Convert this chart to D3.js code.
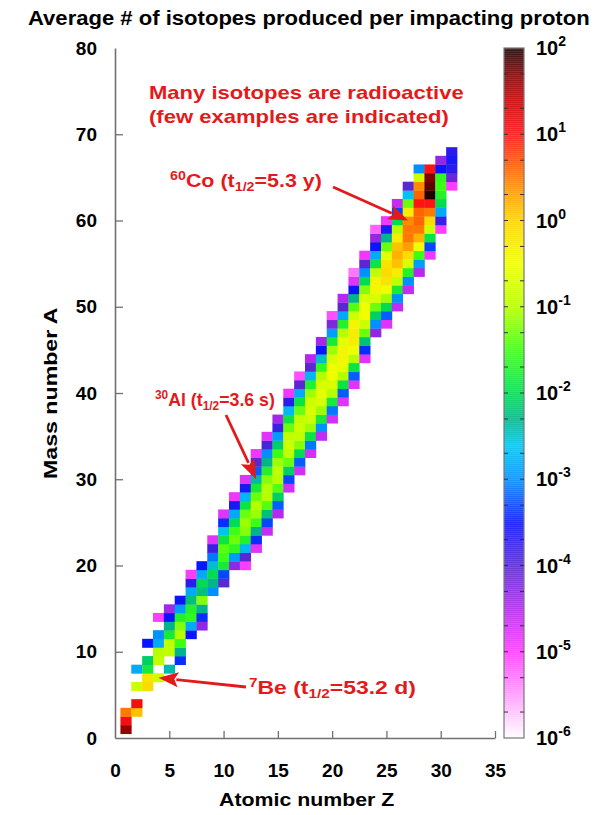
<!DOCTYPE html>
<html><head><meta charset="utf-8">
<script src="https://cdn.jsdelivr.net/npm/d3@7"></script>
<style>
body{margin:0;background:#fff}
svg{display:block}
text{font-family:"Liberation Sans",Arial,Helvetica,sans-serif;font-weight:bold}
</style>
</head><body>
<svg id="c" width="597" height="815"></svg>
<script>
// ---------------- data ----------------
const zValues = [1,2,3,4,5,6,7,8,9,10,11,12,13,14,15,16,17,18,19,20,21,22,23,24,25,26,27,28,29,30,31];
// first mass number A of each Z column
const aStart  = [1,3,6,7,8,9,12,13,17,18,20,20,22,24,26,29,31,33,35,37,39,41,44,47,48,50,52,54,56,59,64];
// log10(average number produced per proton), one entry per A from aStart upward; null = none
const logYield = [
  [1.6,1.1,0.5],
  [0.1,1.1,null,-0.8,null,-2.8],
  [-0.1,-0.2,-1.8,-2.1,null,-3.5],
  [-0.8,null,-0.9,-1.0,-2.8,-3.0,null,-5.0],
  [-2.4,null,-0.9,-0.9,-1.8,-2.3,-3.5,-4.4],
  [-3.4,-2.3,-1.5,-1.0,-1.2,-1.7,-2.9,-3.5],
  [-3.5,-2.8,-1.6,-1.7,-2.2,-2.8,-3.7,-5.0],
  [-4.3,-3.4,-2.3,-1.2,-2.2,-2.0,-2.8,-3.5],
  [-3.0,-2.3,-2.0,-2.5,-3.1,-3.8,-4.8],
  [-4.0,-3.3,-1.8,-1.5,-1.4,-1.9,-2.6,-3.4,-4.8],
  [-4.3,-2.9,-1.6,-1.3,-1.5,-2.0,-2.8,-3.6,-4.9],
  [-5.0,-4.0,-2.7,-1.7,-1.2,-1.1,-1.3,-1.9,-2.7,-3.6,-4.8],
  [-4.8,-3.4,-2.3,-1.5,-1.1,-1.0,-1.3,-1.8,-2.4,-3.2,-4.0,-4.9],
  [-4.6,-3.3,-2.2,-1.4,-1.0,-1.0,-1.2,-1.7,-2.3,-3.0,-3.9,-4.8],
  [-4.5,-3.2,-2.1,-1.4,-1.0,-0.9,-1.1,-1.5,-2.1,-2.9,-3.8,-4.4],
  [-4.7,-3.3,-2.1,-1.3,-0.9,-0.8,-0.9,-1.3,-1.9,-2.7,-3.7,-4.9],
  [-4.7,-3.2,-2.0,-1.2,-0.9,-0.8,-0.9,-1.3,-1.9,-2.8,-4.0,-5.1],
  [-4.7,-3.1,-1.9,-1.1,-0.8,-0.7,-0.8,-1.1,-1.7,-2.7,-4.0,-4.5],
  [-4.6,-3.0,-1.8,-1.1,-0.7,-0.6,-0.7,-1.0,-1.6,-2.5,-3.5,-4.4],
  [-4.7,-3.1,-1.8,-1.0,-0.7,-0.5,-0.5,-0.7,-1.1,-1.8,-2.9,-4.2,-5.1],
  [-4.8,-3.2,-1.9,-1.0,-0.6,-0.4,-0.4,-0.6,-1.0,-1.7,-2.8,-4.0,-4.5],
  [-4.8,-3.2,-1.9,-1.0,-0.5,-0.3,-0.3,-0.4,-0.8,-1.4,-2.3,-3.5,-4.8,-5.3],
  [-4.8,-3.4,-2.2,-1.3,-0.8,-0.5,-0.5,-0.7,-1.2,-2.0,-3.0,-4.0,-4.9],
  [-4.3,-3.0,-2.1,-1.3,-0.7,-0.4,-0.4,-0.9,-1.9,-2.8,-3.5,-4.3,-5.2],
  [-4.8,-3.2,-2.0,-1.1,-0.5,-0.2,-0.1,-0.2,-0.6,-1.3,-2.3,-3.6,-4.9],
  [-4.6,-3.0,-1.8,-0.9,-0.3,0.1,0.2,0.1,-0.3,-1.0,-2.0,-3.3,-4.6],
  [-4.6,-3.0,-1.7,-0.7,-0.1,0.3,0.5,0.5,0.4,-0.3,-1.3,-2.6,-4.0],
  [-4.5,-2.9,-1.5,-0.5,0.2,0.5,0.6,0.6,1.0,0.6,0.4,-0.8,-3.0],
  [-4.9,-3.3,-1.9,-0.8,-0.1,0.5,1.0,2.0,1.8,1.7,1.0],
  [-5.0,-3.8,-2.8,-2.0,-1.7,-1.5,-1.6,-3.5,-4.3],
  [-5.0,-4.1,-3.7,-3.6,-3.7]
];
const xTicks = [0,5,10,15,20,25,30,35];
const yTicks = [0,10,20,30,40,50,60,70,80];
const cbExponents = [-6,-5,-4,-3,-2,-1,0,1,2];
// colour map: log10 value -> colour
const stopLogs   = [-6,-5.5,-5,-4.5,-4,-3.5,-3,-2.6,-2.3,-2,-1.5,-1,-0.5,0,0.3,0.6,1,1.4,1.7,2];
const stopColors = ["#ffffff","#ff9cff","#ff3cff","#b428f0","#5a28d2","#0a14ff","#0090ff","#00c4ee","#00b48c","#00dc50","#3cff14","#b4ff00","#f0ff00","#ffd200","#ffa000","#ff6400","#ff1414","#c80000","#820000","#1e0000"];

// ---------------- scales ----------------
const svg = d3.select("#c");
const X = d3.scaleLinear().domain([0,35]).range([115,495]);
const Y = d3.scaleLinear().domain([0,80]).range([738,48]);
const CB = d3.scaleLinear().domain([-6,2]).range([738,48]);
const color = d3.scaleLinear().domain(stopLogs).range(stopColors).interpolate(d3.interpolateRgb).clamp(true);
const RED = "#e41a1a";

// stretch a text horizontally so that it spans targetWidth, anchored at its start
function fitWidth(t, x, y, targetWidth){
  t.attr("x",0).attr("y",0);
  const w = t.node().getBBox().width;
  t.attr("transform",`translate(${x},${y}) scale(${targetWidth/w},1)`);
  return t;
}

// ---------------- cells ----------------
const cells = [];
zValues.forEach((z,i)=>logYield[i].forEach((v,j)=>{ if(v!==null) cells.push({z:z,a:aStart[i]+j,v:v}); }));
const cw = X(1)-X(0), ch = Y(0)-Y(1);
svg.append("g").selectAll("rect").data(cells).join("rect")
  .attr("x",d=>X(d.z-0.5)).attr("y",d=>Y(d.a+0.5))
  .attr("width",cw+0.35).attr("height",ch+0.35)
  .attr("fill",d=>color(d.v));

// ---------------- axes ----------------
const axisColor = "#707070";
const gx = svg.append("g").attr("transform","translate(0,738)")
  .call(d3.axisBottom(X).tickValues(xTicks).tickSize(-7).tickSizeOuter(0).tickPadding(26));
const gy = svg.append("g").attr("transform","translate(115,0)")
  .call(d3.axisLeft(Y).tickValues(yTicks).tickSize(-8).tickSizeOuter(0).tickPadding(18));
[gx,gy].forEach(g=>{
  g.select(".domain").attr("stroke",axisColor).attr("stroke-width",1.6);
  g.selectAll(".tick line").attr("stroke",axisColor).attr("stroke-width",1.3);
  g.selectAll(".tick text").attr("fill","#000").attr("font-size",19)
    .attr("font-family","Liberation Sans, Arial, sans-serif").attr("font-weight","bold");
});
gy.selectAll(".tick").filter(d=>d===0||d===80).select("line").remove();
gx.selectAll(".tick").filter(d=>d===0).select("line").remove();

fitWidth(svg.append("text").attr("font-size",19).text("Atomic number Z"), 219, 806, 176);
{
  const t = svg.append("text").attr("font-size",19).text("Mass number A");
  const w = t.node().getBBox().width, L = 172;
  t.attr("x",0).attr("y",0).attr("transform",`translate(57,${393+L/2}) rotate(-90) scale(${L/w},1)`);
}

// title
fitWidth(svg.append("text").attr("font-size",20).text("Average # of isotopes produced per impacting proton"), 28, 25, 562);

// ---------------- colorbar ----------------
const cbx = 504, cbw = 20, N = 345;
const cb = svg.append("g");
cb.selectAll("rect").data(d3.range(N)).join("rect")
  .attr("x",cbx).attr("width",cbw)
  .attr("y",i=>CB(-6+8*(i+1)/N)).attr("height",(CB(-6)-CB(2))/N+0.6)
  .attr("fill",i=>color(-6+8*(i+0.5)/N)).attr("opacity",0.82);
cb.append("rect").attr("x",cbx).attr("y",CB(2)).attr("width",cbw).attr("height",CB(-6)-CB(2))
  .attr("fill","none").attr("stroke","#777").attr("stroke-width",1.2);
const minor = [];
cbExponents.slice(0,-1).forEach(k=>[1,2,5].forEach(m=>{const v=k+Math.log10(m); if(v>-6) minor.push(v);}));
cb.selectAll("line.l").data(minor).join("line")
  .attr("x1",cbx).attr("x2",cbx+4).attr("y1",v=>CB(v)).attr("y2",v=>CB(v)).attr("stroke","#333").attr("stroke-width",1);
cb.selectAll("line.r").data(minor).join("line")
  .attr("x1",cbx+cbw-4).attr("x2",cbx+cbw).attr("y1",v=>CB(v)).attr("y2",v=>CB(v)).attr("stroke","#333").attr("stroke-width",1);
const cbl = cb.selectAll("text.cbl").data(cbExponents).join("text")
  .attr("x",536).attr("y",k=>CB(k)+7).attr("font-size",20);
cbl.append("tspan").text("10");
cbl.append("tspan").attr("font-size",14).attr("dy",-9).text(k=>k);

// ---------------- annotations ----------------
function label(x,y,sup,el,half,target){
  const t = svg.append("text").attr("fill",RED).attr("font-size",18);
  t.append("tspan").attr("font-size",12).attr("dy",-7).text(sup);
  t.append("tspan").attr("dy",7).text(el+" (t");
  t.append("tspan").attr("font-size",12).attr("dy",4).text("1/2");
  t.append("tspan").attr("dy",-4).text("="+half+")");
  return fitWidth(t,x,y,target);
}
function arrow(x1,y1,x2,y2){
  const L = Math.hypot(x2-x1,y2-y1), ux=(x2-x1)/L, uy=(y2-y1)/L;
  const hl=20, hw=7.5;
  const bx=x2-ux*hl, by=y2-uy*hl;
  svg.append("line").attr("x1",x1).attr("y1",y1).attr("x2",bx+ux*2).attr("y2",by+uy*2)
    .attr("stroke",RED).attr("stroke-width",2.8);
  svg.append("path").attr("fill",RED)
    .attr("d",`M${x2},${y2}L${bx-uy*hw},${by+ux*hw}L${bx+ux*4},${by+uy*4}L${bx+uy*hw},${by-ux*hw}Z`);
}
fitWidth(svg.append("text").attr("fill",RED).attr("font-size",18).text("Many isotopes are radioactive"),149,99,315);
fitWidth(svg.append("text").attr("fill",RED).attr("font-size",18).text("(few examples are indicated)"),149,123,300);

label(170,187,"60","Co","5.3 y",152);
arrow(333,187,X(27),Y(60));
label(155,406,"30","Al","3.6 s",120);
arrow(226,415,X(13),Y(30));
label(249,694,"7","Be","53.2 d",167);
arrow(246,687,X(4),Y(7));
</script>
</body></html>
